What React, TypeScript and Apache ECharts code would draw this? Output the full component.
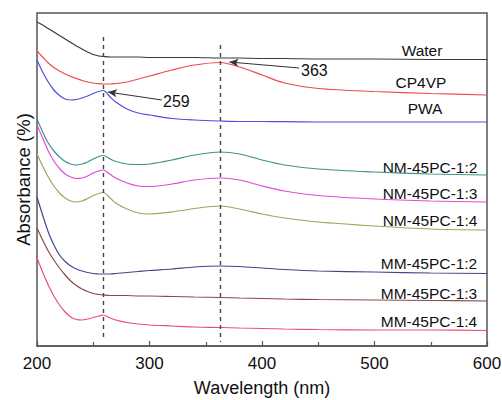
import React, { useEffect, useRef } from "react";
import * as echarts from "echarts";

const wavelengths = [200, 205, 210, 215, 220, 225, 230, 235, 240, 245, 250, 255, 259, 265, 270, 280, 290, 300, 320, 340, 363, 380, 400, 420, 450, 500, 550, 600];

const water = [324, 321, 317.5, 314, 310.5, 307, 303.5, 300, 297, 294, 291.5, 290, 289.5, 289, 289, 289, 289, 288.5, 288.5, 288.5, 288, 288, 287.5, 287.5, 287, 287, 286.5, 286.5];
const cp4vp = [295, 289, 283, 278.5, 275, 272, 269.5, 267.5, 265.5, 264, 263, 262.3, 262, 262, 262.5, 264, 267, 270, 276, 281, 283.5, 279, 271, 263, 257.5, 254.5, 252.5, 251];
const pwa = [286, 274, 264, 256, 250.5, 247, 246, 246.5, 248, 250, 252.5, 254.5, 255.5, 249, 244, 237, 233, 231, 227.5, 226, 225, 224.5, 224.5, 224.3, 224, 224, 224, 224];
const nm12 = [227, 214, 203, 195, 189, 184.5, 182, 181, 182, 184, 187, 189.5, 190.5, 187, 184.5, 182, 181.5, 182, 186, 191, 194, 192, 186, 181, 177, 174, 172, 171];
const nm13 = [221, 208, 195, 185, 177.5, 172, 169, 167.5, 168, 170, 173, 175, 176, 171.5, 168, 163, 160, 159.5, 162, 166, 168, 166, 160, 155, 150.5, 147, 145, 144];
const nm14 = [192, 180, 169, 160, 153, 148, 145, 144, 145, 147.5, 150.5, 152.5, 153.5, 148, 143, 137, 133, 132, 134, 137.5, 140, 137, 132, 128, 124, 120, 117, 116];
const mm12 = [149, 131, 114, 101, 91, 84.5, 80, 77, 75, 73.5, 72.5, 72, 72, 72, 72.5, 73.5, 74.5, 75.5, 77, 79, 80, 79.5, 78, 76.5, 75, 74, 73, 72.5];
const mm13 = [118, 106, 95, 86, 78, 71, 65, 60.5, 57, 54.5, 52.5, 51.5, 51, 50.5, 50.5, 50.5, 50, 50, 49.5, 49, 48.5, 48, 47.5, 47, 46.5, 46, 45.5, 45];
const mm14 = [88, 74, 61, 50, 41, 34, 29, 26.5, 26, 27, 28.5, 30, 31, 28, 26, 23.5, 22, 21, 20, 19, 18.5, 18, 17.5, 17, 16.5, 16, 16, 15.5];

const seriesNames = ["Water", "CP4VP", "PWA", "NM-45PC-1:2", "NM-45PC-1:3", "NM-45PC-1:4", "MM-45PC-1:2", "MM-45PC-1:3", "MM-45PC-1:4"];
const seriesValues = [water, cp4vp, pwa, nm12, nm13, nm14, mm12, mm13, mm14];
const seriesColors = ["#3a3a3a", "#ec4a4f", "#4f4fe0", "#3f938e", "#e44ad8", "#a3a35c", "#45458e", "#8e4a48", "#ea4c84"];

const xTicks = [200, 300, 400, 500, 600];
const peakMarks = [259, 363];

// layout of the label texts (pixel positions)
const labelPos: [number, number][] = [
  [422, 50], [421, 82], [425, 108], [430, 167], [430, 193], [430, 220], [429, 263], [429, 293], [429, 321],
];

export default function App() {
  const ref = useRef<HTMLDivElement>(null);
  useEffect(() => {
    if (!ref.current) return;
    const chart = echarts.init(ref.current, null, { renderer: "svg" });
    const font = "'Liberation Sans', Arial, Helvetica, sans-serif";
    const series: any[] = seriesNames.map((name, i) => ({
      name,
      type: "line",
      data: wavelengths.map((w, j) => [w, seriesValues[i][j]]),
      showSymbol: false,
      smooth: 0.3,
      lineStyle: { color: seriesColors[i], width: 1.2 },
      itemStyle: { color: seriesColors[i] },
      silent: true,
    }));
    series[0].markLine = {
      silent: true,
      symbol: ["none", "none"],
      label: { show: false },
      lineStyle: { color: "#444", type: [4, 4], width: 1.4 },
      data: [
        [{ coord: [peakMarks[0], 309] }, { coord: [peakMarks[0], 8] }],
        [{ coord: [peakMarks[1], 301] }, { coord: [peakMarks[1], 4] }],
      ],
    };
    series[1].markLine = {
      silent: true,
      symbol: ["none", "arrow"],
      symbolSize: [6, 9],
      label: { show: false },
      lineStyle: { color: "#333", type: "solid", width: 1.2 },
      data: [
        [{ coord: [433, 278] }, { coord: [371, 284] }],
        [{ coord: [311, 246] }, { coord: [263, 254] }],
      ],
    };
    const graphics: any[] = seriesNames.map((name, i) => ({
      type: "text",
      x: labelPos[i][0],
      y: labelPos[i][1],
      silent: true,
      style: {
        text: name,
        fill: "#111",
        font: `15.5px ${font}`,
        align: "center",
        verticalAlign: "middle",
      },
    }));
    graphics.push(
      { type: "text", x: 301, y: 70, silent: true, style: { text: String(peakMarks[1]), fill: "#111", font: `16px ${font}`, align: "left", verticalAlign: "middle" } },
      { type: "text", x: 163, y: 101, silent: true, style: { text: String(peakMarks[0]), fill: "#111", font: `16px ${font}`, align: "left", verticalAlign: "middle" } }
    );
    chart.setOption({
      animation: false,
      backgroundColor: "#fff",
      grid: { left: 37, right: 15, top: 13, bottom: 54, show: true, borderColor: "#555", borderWidth: 1.5, backgroundColor: "transparent", outerBoundsMode: "none", containLabel: false },
      xAxis: {
        type: "value",
        min: xTicks[0],
        max: xTicks[xTicks.length - 1],
        interval: 100,
        name: "Wavelength (nm)",
        nameLocation: "middle",
        nameGap: 33,
        nameTextStyle: { fontFamily: font, fontSize: 18, color: "#111" },
        axisLine: { show: true, lineStyle: { color: "#555", width: 1.5 } },
        axisTick: { show: true, inside: true, length: 5, lineStyle: { color: "#555", width: 1.2 } },
        minorTick: { show: true, splitNumber: 2, length: 4, lineStyle: { color: "#555", width: 1.2 } },
        axisLabel: { fontFamily: font, fontSize: 17, color: "#111", margin: 9 },
        splitLine: { show: false },
      },
      yAxis: {
        type: "value",
        min: 0,
        max: 333,
        name: "Absorbance (%)",
        nameLocation: "middle",
        nameRotate: 90,
        nameGap: 4,
        nameTextStyle: { fontFamily: font, fontSize: 18.5, color: "#111" },
        axisLine: { show: false },
        axisTick: { show: false },
        axisLabel: { show: false },
        splitLine: { show: false },
      },
      series,
      graphic: graphics,
    });
    return () => chart.dispose();
  }, []);
  return <div ref={ref} style={{ width: 502, height: 400, position: "absolute", left: 0, top: 0 }} />;
}
